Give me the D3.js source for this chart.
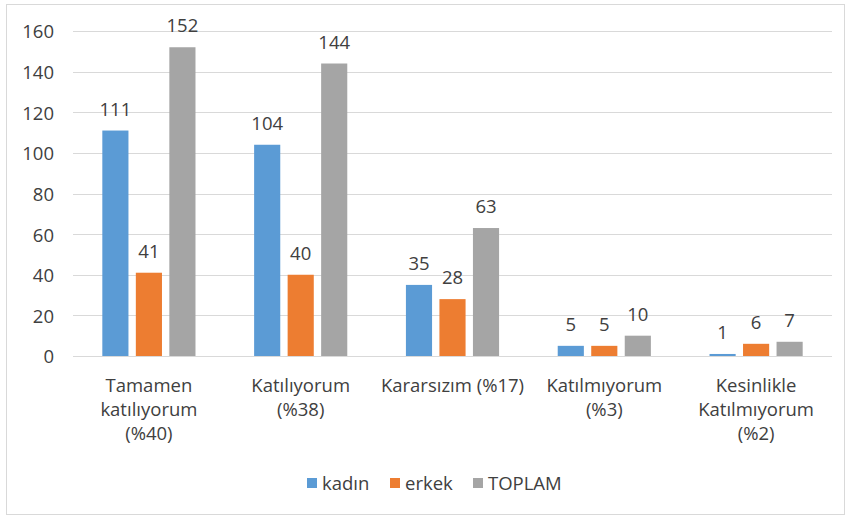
<!DOCTYPE html>
<html><head><meta charset="utf-8">
<script src="https://cdn.jsdelivr.net/npm/d3@7"></script>
<style>body{margin:0;background:#fff}svg{display:block}text{font-family:"Open Sans",sans-serif;fill:#404040}</style>
</head><body><svg id="c" width="846" height="516"></svg>
<script>
const categories = [["Tamamen","katılıyorum","(%40)"],["Katılıyorum","(%38)"],["Kararsızım (%17)"],["Katılmıyorum","(%3)"],["Kesinlikle","Katılmıyorum","(%2)"]];
const seriesNames = ["kadın","erkek","TOPLAM"];
const kadin = [111,104,35,5,1];
const erkek = [41,40,28,5,6];
const toplam = [152,144,63,10,7];
const yTicks = [0,20,40,60,80,100,120,140,160];
const colors = ["#5B9BD5","#ED7D31","#A5A5A5"];
const values = [kadin, erkek, toplam];
const FS = 18.5;

const svg = d3.select("#c");
svg.append("rect").attr("x",6.5).attr("y",4.5).attr("width",838).attr("height",510).attr("fill","#fff").attr("stroke","#d9d9d9");
const L=73,R=832,T=31,B=356;
const idx = d3.range(categories.length);
const x0 = d3.scaleBand().domain(idx).range([L,R]).padding(0);
const x1 = d3.scaleBand().domain(d3.range(3)).range([0,x0.bandwidth()]).paddingInner(0.22).paddingOuter(0.875);
const y = d3.scaleLinear().domain([0,160]).range([B,T]);

const g = svg.append("g");
g.selectAll("line.grid").data(yTicks).join("line").attr("class","grid")
 .attr("x1",L).attr("x2",R).attr("y1",d=>Math.round(y(d))+0.5).attr("y2",d=>Math.round(y(d))+0.5)
 .attr("stroke","#d9d9d9").attr("stroke-width",1);
g.selectAll("text.yt").data(yTicks).join("text").attr("class","yt")
 .attr("x",54).attr("y",d=>y(d)+1).attr("dy","0.35em").attr("text-anchor","end").attr("font-size",FS).text(d=>d);

values.forEach((arr,s)=>{
  g.selectAll("rect.s"+s).data(arr).join("rect").attr("class","s"+s)
   .attr("x",(d,i)=>x0(i)+x1(s)).attr("width",x1.bandwidth())
   .attr("y",d=>y(d)).attr("height",d=>y(0)-y(d)).attr("fill",colors[s]);
  g.selectAll("text.l"+s).data(arr).join("text").attr("class","l"+s)
   .attr("x",(d,i)=>x0(i)+x1(s)+x1.bandwidth()/2).attr("y",d=>y(d)-15)
   .attr("text-anchor","middle").attr("font-size",FS).text(d=>d);
});

categories.forEach((lines,i)=>{
  const t = g.append("text").attr("text-anchor","middle").attr("font-size",FS);
  lines.forEach((ln,k)=>t.append("tspan").attr("x",x0(i)+x0.bandwidth()/2).attr("y",392+k*24).text(ln));
});

const legX=[307,390,473];
seriesNames.forEach((n,s)=>{
  svg.append("rect").attr("x",legX[s]).attr("y",478).attr("width",10).attr("height",10).attr("fill",colors[s]);
  svg.append("text").attr("x",legX[s]+15).attr("y",490).attr("font-size",FS).text(n);
});
</script></body></html>
